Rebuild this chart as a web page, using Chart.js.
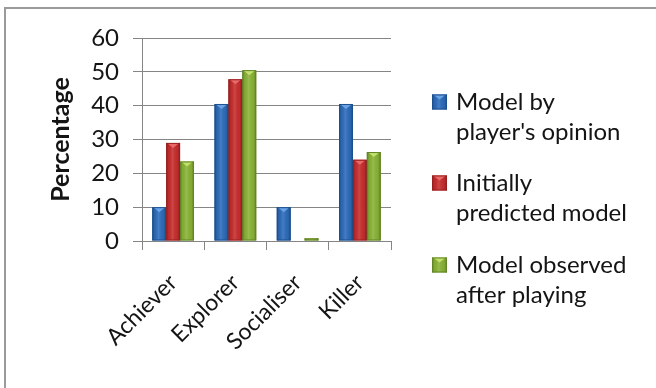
<!DOCTYPE html>
<html>
<head>
<meta charset="utf-8">
<script src="https://cdn.jsdelivr.net/npm/chart.js@4/dist/chart.umd.min.js"></script>
<style>
  html, body { margin: 0; padding: 0; background: #fff; }
  #wrap { position: relative; width: 656px; height: 388px; overflow: hidden; }
</style>
</head>
<body>
<div id="wrap"><canvas id="c" width="656" height="388"></canvas></div>
<script>
// Player type categories and the three percentage series
const categories = ['Achiever', 'Explorer', 'Socialiser', 'Killer'];
const seriesNames = ["Model by player's opinion", 'Initially predicted model', 'Model observed after playing'];
const legendLines = [['Model by', "player's opinion"], ['Initially', 'predicted model'], ['Model observed', 'after playing']];
const playerOpinion = [10, 40.5, 10, 40.5];
const initialPrediction = [29, 47.8, 0, 24];
const observedAfterPlay = [23.5, 50.5, 0.8, 26.3];
const yTicks = [0, 10, 20, 30, 40, 50, 60];

const fillColors = ['#2c6cbb', '#c82d2d', '#8ab436'];
const edgeColors = ['#1d4f8c', '#962020', '#62852a'];
const bevelColors = ['#6aa3e6', '#ea6a6a', '#c2e06a'];

const FONT = 'Lato, "Open Sans", sans-serif';
const TEXT = '#141414';
const GRID = '#858585';

// Outer frame around the figure
const framePlugin = {
  id: 'frame',
  beforeDraw(chart) {
    const ctx = chart.ctx;
    ctx.save();
    ctx.strokeStyle = '#9a9a9a';
    ctx.lineWidth = 2;
    ctx.strokeRect(5, 8, 700, 500);
    ctx.restore();
  }
};

// Bevelled look for each bar: side shading plus a light chevron on top
function shadeBar(ctx, el, i) {
  const left = el.x - el.width / 2, right = el.x + el.width / 2;
  const top = Math.min(el.y, el.base), bottom = Math.max(el.y, el.base);
  const h = bottom - top;
  if (h <= 0) return;
  const g = ctx.createLinearGradient(left, 0, right, 0);
  g.addColorStop(0, 'rgba(0,0,0,0.28)');
  g.addColorStop(0.18, 'rgba(0,0,0,0.05)');
  g.addColorStop(0.45, 'rgba(255,255,255,0.12)');
  g.addColorStop(0.8, 'rgba(0,0,0,0.04)');
  g.addColorStop(1, 'rgba(0,0,0,0.3)');
  ctx.fillStyle = g;
  ctx.fillRect(left, top, right - left, h);
  const bh = Math.min(5, h);
  ctx.fillStyle = bevelColors[i];
  ctx.beginPath();
  ctx.moveTo(left + 1, top);
  ctx.lineTo(right - 1, top);
  ctx.lineTo(el.x, top + bh);
  ctx.closePath();
  ctx.fill();
  ctx.strokeStyle = edgeColors[i];
  ctx.lineWidth = 1;
  ctx.strokeRect(left + 0.5, top + 0.5, right - left - 1, h - 1);
}

const bevelPlugin = {
  id: 'bevel',
  afterDatasetsDraw(chart) {
    const ctx = chart.ctx;
    ctx.save();
    chart.data.datasets.forEach((ds, i) => {
      chart.getDatasetMeta(i).data.forEach(el => shadeBar(ctx, el, i));
    });
    ctx.restore();
  }
};

// Legend on the right with two-line labels
const sideLegend = {
  id: 'sideLegend',
  afterDraw(chart) {
    const ctx = chart.ctx;
    const x0 = 432, tx = 456, size = 15;
    const rows = [102, 183, 265];
    const lh = 30;
    ctx.save();
    ctx.font = '24px ' + FONT;
    ctx.textBaseline = 'middle';
    chart.data.datasets.forEach((ds, i) => {
      const cy = rows[i];
      const sq = { x: x0 + size / 2, y: cy - size / 2, base: cy + size / 2, width: size };
      ctx.fillStyle = fillColors[i];
      ctx.fillRect(x0, cy - size / 2, size, size);
      shadeBar(ctx, sq, i);
      ctx.fillStyle = TEXT;
      legendLines[i].forEach((line, k) => ctx.fillText(line, tx, cy + k * lh));
    });
    ctx.restore();
  }
};

const PAD_LEFT = 46, PAD_TOP = 38, PAD_RIGHT = 265;

new Chart(document.getElementById('c'), {
  type: 'bar',
  data: {
    labels: categories,
    datasets: [playerOpinion, initialPrediction, observedAfterPlay].map((vals, i) => ({
      label: seriesNames[i],
      data: vals,
      backgroundColor: fillColors[i],
      borderWidth: 0,
      categoryPercentage: 0.67,
      barPercentage: 1.0
    }))
  },
  options: {
    responsive: false,
    animation: false,
    devicePixelRatio: 1,
    layout: { padding: { left: PAD_LEFT, top: PAD_TOP, right: PAD_RIGHT, bottom: 0 } },
    plugins: { legend: { display: false }, tooltip: { enabled: false } },
    scales: {
      y: {
        min: 0, max: 60,
        afterBuildTicks: s => { s.ticks = yTicks.map(v => ({ value: v })); },
        afterFit: s => { s.width = 142 - PAD_LEFT; },
        ticks: { color: TEXT, font: { family: FONT, size: 24 }, padding: 14 },
        grid: { color: GRID, tickLength: 9, lineWidth: 1 },
        border: { color: GRID, width: 1 },
        title: { display: true, text: 'Percentage', color: TEXT, font: { family: FONT, size: 25, weight: 'bold' }, padding: 0 }
      },
      x: {
        afterFit: s => { s.height = 388 - 241; },
        ticks: { color: TEXT, font: { family: FONT, size: 23 }, minRotation: 45, maxRotation: 45, padding: 19 },
        grid: { drawOnChartArea: false, color: GRID, tickLength: 9, offset: true },
        border: { color: GRID, width: 1 }
      }
    }
  },
  plugins: [framePlugin, bevelPlugin, sideLegend]
});
</script>
</body>
</html>
